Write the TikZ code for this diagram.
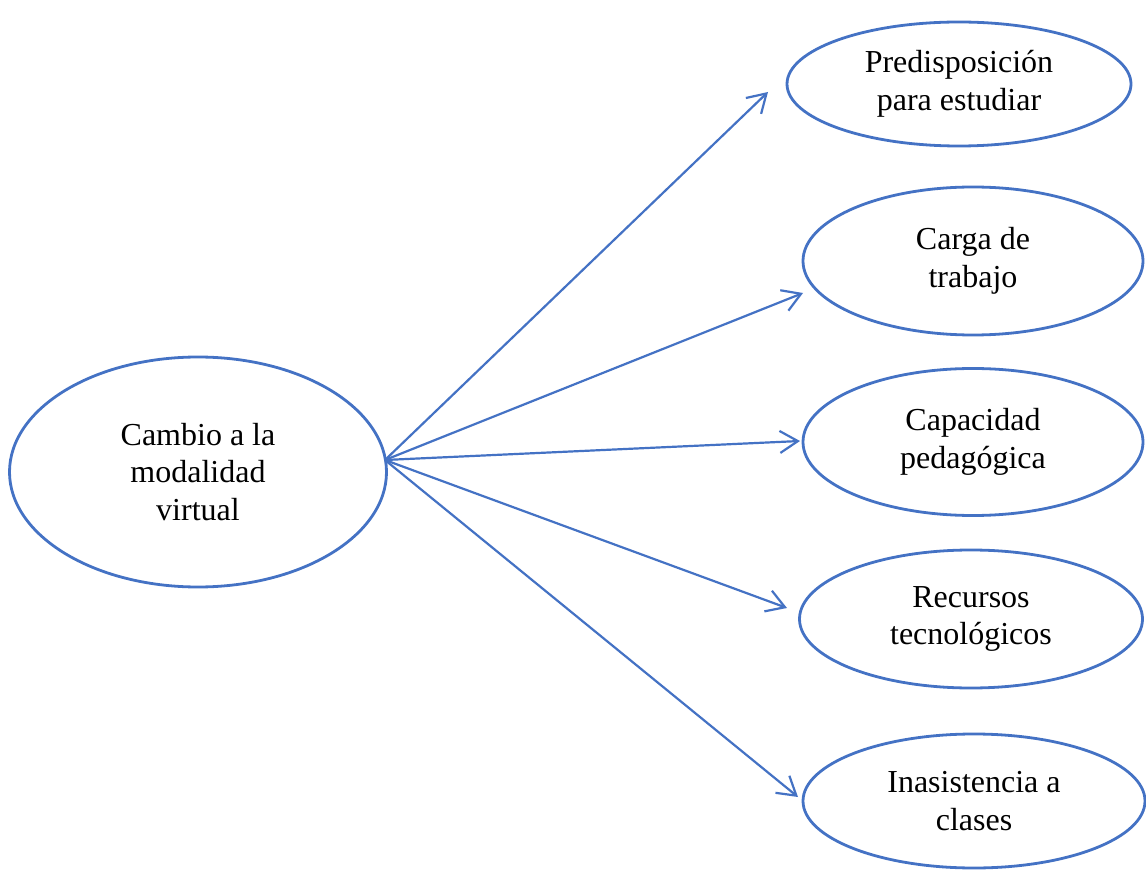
\documentclass[tikz,border=0pt]{standalone}
\usepackage{fontspec}
\setmainfont{Liberation Serif}
\usetikzlibrary{arrows.meta,shapes}
\definecolor{wordblue}{HTML}{4472C4}
\tikzstyle{bubble}=[ellipse,draw=wordblue,line width=2.8pt,inner sep=0pt,align=center,font=\fontsize{32}{37.5}\selectfont]
\tikzstyle{edge}=[draw=wordblue,line width=2.2pt,-{Straight Barb[length=18pt,width=22pt,line width=2.2pt]}]

\begin{document}
\begin{tikzpicture}[x=1pt,y=-1pt]
                    \useasboundingbox (0,0) rectangle (1146,874);

                    \node[bubble,minimum width=377pt,minimum height=230pt] (cambio) at (198,472) {Cambio a la\\modalidad\\virtual};

                    \node[bubble,minimum width=344pt,minimum height=124pt] (pred) at (959,84) {Predisposición\\para estudiar};
                    \node[bubble,minimum width=340pt,minimum height=148pt] (carga) at (973,261) {Carga de\\trabajo};
                    \node[bubble,minimum width=340pt,minimum height=147pt] (capac) at (973,442) {Capacidad\\pedagógica};
                    \node[bubble,minimum width=343pt,minimum height=138pt] (recur) at (971,619) {Recursos\\tecnológicos};
                    \node[bubble,minimum width=342pt,minimum height=134pt] (inas) at (974,801) {Inasistencia a\\clases};

                    % common start and arrow tips
                    \coordinate (hub) at (385,460);
                    \coordinate (t1) at (768,92);
                    \coordinate (t2) at (803,293);
                    \coordinate (t3) at (800,441);
                    \coordinate (t4) at (787,608);
                    \coordinate (t5) at (798,797);

                    \path[edge] (hub) -- (t1);
                    \path[edge] (hub) -- (t2);
                    \path[edge] (hub) -- (t3);
                    \path[edge] (hub) -- (t4);
                    \path[edge] (hub) -- (t5);
                \end{tikzpicture}
\end{document}
